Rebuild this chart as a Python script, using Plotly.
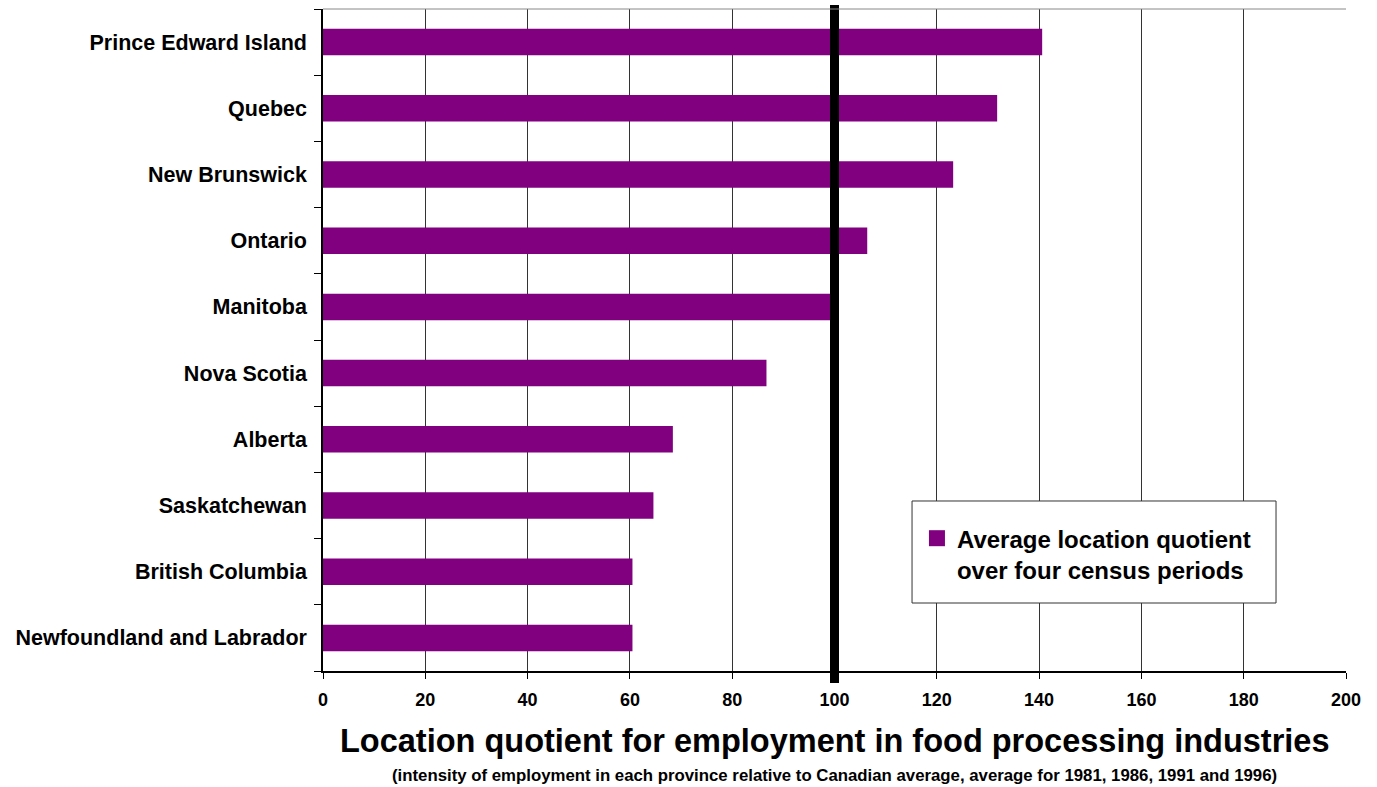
import plotly.graph_objects as go

provinces = ["Prince Edward Island", "Quebec", "New Brunswick", "Ontario", "Manitoba",
             "Nova Scotia", "Alberta", "Saskatchewan", "British Columbia",
             "Newfoundland and Labrador"]
quotients = [140.6, 131.8, 123.2, 106.4, 99.6, 86.7, 68.4, 64.6, 60.5, 60.5]
x_ticks = [0, 20, 40, 60, 80, 100, 120, 140, 160, 180, 200]
canada_average = 100
legend_label = "<b>Average location quotient<br>over four census periods</b>"

FONT = "Liberation Sans, Arial, sans-serif"
PURPLE = "#800080"

fig = go.Figure()
fig.add_trace(go.Bar(
    y=provinces, x=quotients, orientation="h",
    marker=dict(color=PURPLE, line=dict(width=0)),
    width=0.4, showlegend=False,
))
# legend entry (square swatch)
fig.add_trace(go.Scatter(
    x=[None], y=[None], mode="markers",
    marker=dict(symbol="square", size=16, color=PURPLE),
    name=legend_label, showlegend=True,
))

fig.add_shape(type="line", xref="x", yref="paper",
              x0=canada_average, x1=canada_average, y0=-0.018, y1=1.006,
              line=dict(color="black", width=9))

# legend frame
fig.add_shape(type="rect", xref="paper", yref="paper",
              x0=0.5758, x1=0.9316, y0=0.1027, y1=0.2568,
              line=dict(color="#333333", width=1), fillcolor="white", layer="above")

fig.update_layout(
    width=1377, height=787,
    margin=dict(l=323, r=31, t=9, b=116),
    plot_bgcolor="white", paper_bgcolor="white",
    font=dict(family=FONT, color="black"),
    xaxis=dict(range=[0, 200], tickvals=x_ticks, ticktext=[f"<b>{v}</b>" for v in x_ticks],
               showgrid=True, gridcolor="#333333", gridwidth=1,
               showline=True, linecolor="black", linewidth=1.5, mirror=False,
               ticks="outside", ticklen=6, tickcolor="black", ticklabelstandoff=6,
               tickfont=dict(size=18, family=FONT), zeroline=False),
    yaxis=dict(categoryorder="array", categoryarray=provinces, autorange="reversed",
               tickvals=provinces, ticktext=[f"<b>{p}</b>" for p in provinces],
               tickson="boundaries", ticks="outside", ticklen=7, tickcolor="black",
               ticklabelstandoff=10,
               showline=True, linecolor="black", linewidth=1.5,
               showgrid=False, tickfont=dict(size=21.5, family=FONT)),
    legend=dict(x=0.5806, y=0.234, xanchor="left", yanchor="top",
                bgcolor="rgba(0,0,0,0)", borderwidth=0, valign="top",
                font=dict(size=24, family=FONT), itemsizing="trace"),
    annotations=[
        dict(text="<b>Location quotient for employment in food processing industries</b>",
             xref="paper", yref="paper", x=0.5, y=-0.105, xanchor="center", yanchor="middle",
             showarrow=False, font=dict(size=32.5, family=FONT)),
        dict(text="<b>(intensity of employment in each province relative to Canadian average, average for 1981, 1986, 1991 and 1996)</b>",
             xref="paper", yref="paper", x=0.5, y=-0.158, xanchor="center", yanchor="middle",
             showarrow=False, font=dict(size=16.8, family=FONT)),
    ],
)
# top border
fig.add_shape(type="line", xref="paper", yref="paper", x0=0, x1=1, y0=1, y1=1,
              line=dict(color="#888888", width=1))

fig.write_html("out.html")
